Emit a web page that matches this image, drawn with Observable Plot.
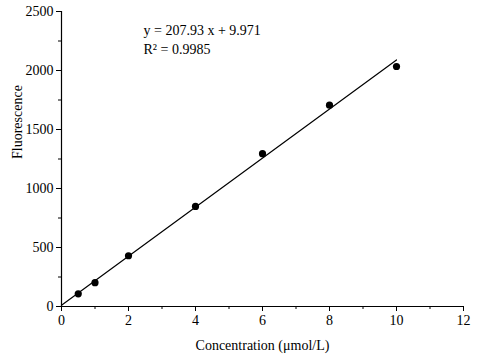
<!DOCTYPE html>
<html>
<head>
<meta charset="utf-8">
<script src="https://cdn.jsdelivr.net/npm/d3@7"></script>
<script src="https://cdn.jsdelivr.net/npm/@observablehq/plot@0.6"></script>
<style>
  html, body { margin: 0; padding: 0; background: #fff; }
  svg, svg text { font-family: "Liberation Serif", "Times New Roman", serif !important; }
</style>
</head>
<body>
<div id="chart"></div>
<script>
const concentration = [0.5, 1, 2, 4, 6, 8, 10];
const fluorescence = [107, 202, 430, 848, 1295, 1706, 2034];
const slope = 207.93;
const intercept = 9.971;
const fitRange = [0, 10];
const xMajorTicks = [0, 2, 4, 6, 8, 10, 12];
const xMinorTicks = [1, 3, 5, 7, 9, 11];
const yMajorTicks = [0, 500, 1000, 1500, 2000, 2500];
const yMinorTicks = [250, 750, 1250, 1750, 2250];
const equationText = "y = 207.93 x + 9.971";
const r2Text = "R\u00B2 = 0.9985";

const points = concentration.map((c, i) => ({x: c, y: fluorescence[i]}));
const fit = fitRange.map(x => ({x, y: slope * x + intercept}));

const chart = Plot.plot({
  width: 480,
  height: 360,
  marginLeft: 61,
  marginRight: 17,
  marginTop: 11,
  marginBottom: 54,
  style: {fontSize: "13px", color: "#000", background: "#fff"},
  x: {domain: [0, 12]},
  y: {domain: [0, 2500]},
  marks: [
    Plot.axisX({ticks: xMajorTicks, tickSize: 5, tickPadding: 4, fontSize: 14, tickFormat: "d", label: null}),
    Plot.axisX({ticks: xMinorTicks, tickSize: 3, text: null, label: null}),
    Plot.axisY({ticks: yMajorTicks, tickSize: 5, tickPadding: 3, fontSize: 14, tickFormat: "d", label: null}),
    Plot.axisY({ticks: yMinorTicks, tickSize: 3, text: null, label: null}),
    Plot.ruleY([0], {stroke: "#000", strokeWidth: 1.2}),
    Plot.ruleX([0], {stroke: "#000", strokeWidth: 1.2}),
    Plot.line(fit, {x: "x", y: "y", stroke: "#000", strokeWidth: 1.2}),
    Plot.dot(points, {x: "x", y: "y", r: 3.6, fill: "#000", stroke: "none"}),
    Plot.text([equationText], {frameAnchor: "top-left", dx: 82, dy: 14, text: d => d, fontSize: 14, textAnchor: "start"}),
    Plot.text([r2Text], {frameAnchor: "top-left", dx: 82, dy: 33, text: d => d, fontSize: 14, textAnchor: "start"}),
    Plot.text(["Concentration (\u03BCmol/L)"], {frameAnchor: "bottom", dy: 43, text: d => d, fontSize: 14}),
    Plot.text(["Fluorescence"], {frameAnchor: "left", dx: -44, rotate: -90, text: d => d, fontSize: 14})
  ]
});
document.getElementById("chart").appendChild(chart);
</script>
</body>
</html>
